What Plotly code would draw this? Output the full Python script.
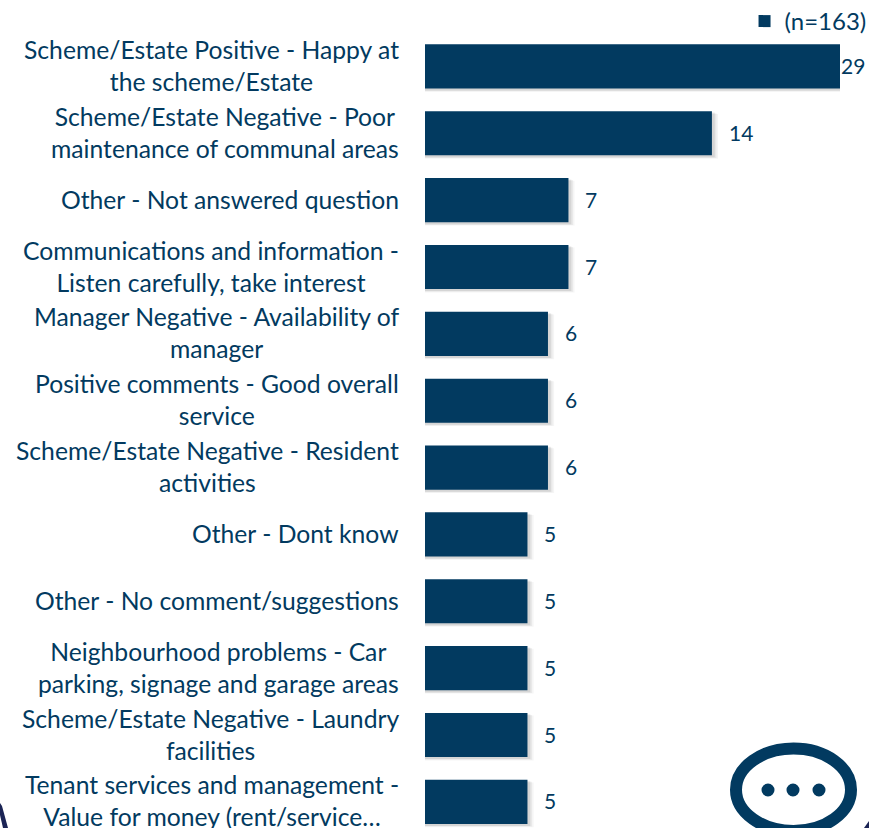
import plotly.graph_objects as go

categories = [
    "Scheme/Estate Positive - Happy at<br>the scheme/Estate",
    "Scheme/Estate Negative - Poor<br>maintenance of communal areas",
    "Other - Not answered question",
    "Communications and information -<br>Listen carefully, take interest",
    "Manager Negative - Availability of<br>manager",
    "Positive comments - Good overall<br>service",
    "Scheme/Estate Negative - Resident<br>activities",
    "Other - Dont know",
    "Other - No comment/suggestions",
    "Neighbourhood problems - Car<br>parking, signage and garage areas",
    "Scheme/Estate Negative - Laundry<br>facilities",
    "Tenant services and management -<br>Value for money (rent/service…",
]
values = [29, 14, 7, 7, 6, 6, 6, 5, 5, 5, 5, 5]
series_name = "(n=163)"

W, H = 869, 828
L, R, T = 425, 29, 32.5
BAND = 66.9
XMAX = 20.25
INK = "#023A60"
NAVY = "#1B2455"
FONT = "Lato"

def px(x):
    return (x - L) / (W - L - R)
def py(y):
    return 1 - (y - T) / (H - T)

ids = list(range(len(categories)))
fig = go.Figure()
for dx, off, alpha in [(0.30, -0.29, 0.04), (0.22, -0.30, 0.05), (0.14, -0.31, 0.08)]:
    fig.add_trace(go.Bar(y=ids, x=[v + dx for v in values], orientation="h", width=0.67,
                         offset=off, marker=dict(color=f"rgba(0,0,0,{alpha})", line_width=0),
                         showlegend=False, hoverinfo="skip"))
fig.add_trace(go.Bar(y=ids, x=values, orientation="h", width=0.66, name=series_name,
                     marker=dict(color=INK, line=dict(color="#ffffff", width=0))))

ann = []
for i, (c, v) in enumerate(zip(categories, values)):
    ann.append(dict(x=min(v, XMAX), y=i, xref="x", yref="y", text=str(v), showarrow=False,
                    xanchor="left", xshift=-1 if v > XMAX else 15, yshift=1,
                    font=dict(family=FONT, size=21, color=INK)))
    ann.append(dict(x=0, y=i, xref="paper", yref="y", text=c, showarrow=False,
                    xanchor="right", align="center", xshift=-24, yshift=1,
                    font=dict(family=FONT, size=24.7, color=INK)))

shapes = [
    dict(type="circle", xref="paper", yref="paper", x0=px(736), x1=px(851), y0=py(748.5), y1=py(831),
         line=dict(color=INK, width=12), fillcolor="white", layer="above"),
    dict(type="path", xref="paper", yref="paper", layer="above", fillcolor=NAVY, line_width=0,
         path=f"M {px(0)} {py(803)} L {px(2)} {py(806)} L {px(8)} {py(828)} L {px(3)} {py(828)} L {px(0)} {py(815)} Z"),
    dict(type="path", xref="paper", yref="paper", layer="above", fillcolor=NAVY, line_width=0,
         path=f"M {px(869)} {py(821)} L {px(869)} {py(828)} L {px(864)} {py(828)} Z"),
]
for cx in (768, 793, 819):
    shapes.append(dict(type="circle", xref="paper", yref="paper", x0=px(cx - 6.5), x1=px(cx + 6.5),
                       y0=py(783.5), y1=py(796.5), line_width=0, fillcolor=INK, layer="above"))

fig.update_layout(
    width=W, height=H, margin=dict(l=L, r=R, t=T, b=0, pad=0, autoexpand=False),
    barmode="overlay", plot_bgcolor="white", paper_bgcolor="white",
    xaxis=dict(range=[0, XMAX], visible=False),
    yaxis=dict(range=[(H - T) / BAND - 0.5, -0.5], tickvals=ids, showticklabels=False,
               showgrid=False, zeroline=False, showline=False, ticks=""),
    showlegend=True,
    legend=dict(x=1.076, xanchor="right", y=py(21), yanchor="middle", bgcolor="rgba(0,0,0,0)",
                font=dict(family=FONT, size=24, color=INK)),
    annotations=ann, shapes=shapes,
)
fig.write_html("out.html", config=dict(displayModeBar=False),
               post_script="document.body.style.margin='0';document.body.style.overflow='hidden';")
